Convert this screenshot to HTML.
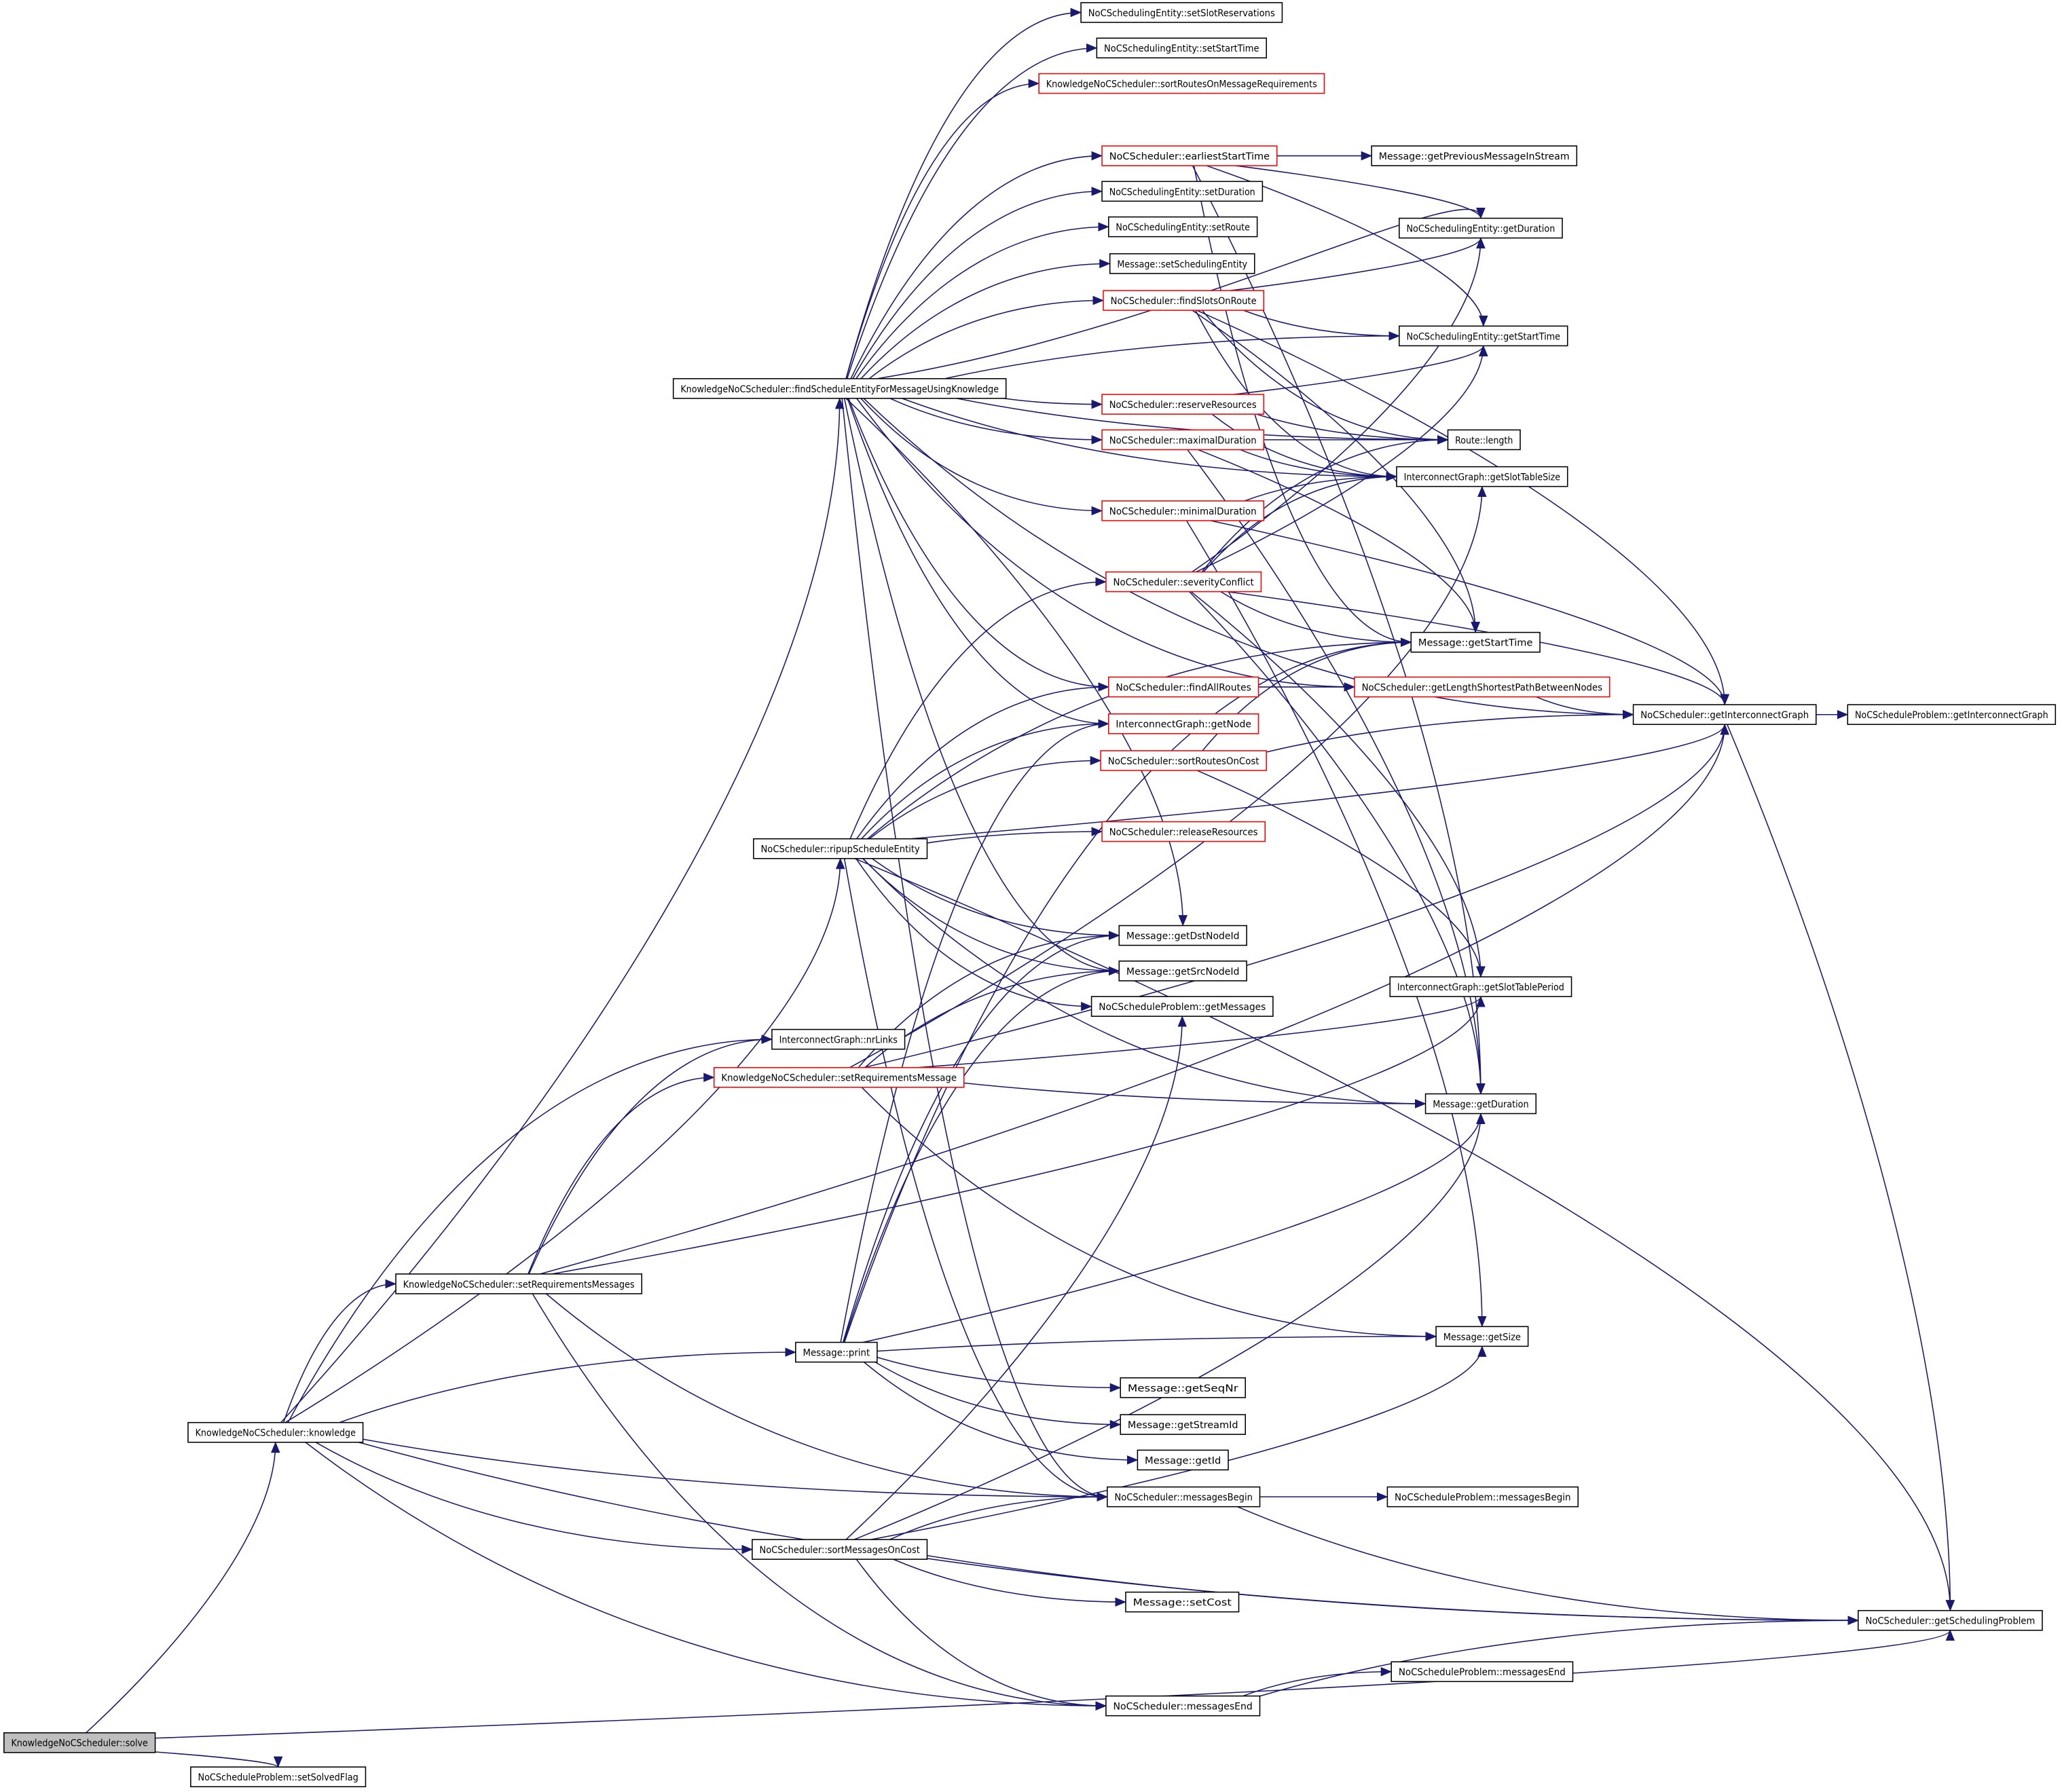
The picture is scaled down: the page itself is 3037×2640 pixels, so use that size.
<!DOCTYPE html>
<html><head><meta charset="utf-8">
<style>
html,body{margin:0;padding:0;background:#fff;}
svg{display:block;}
text{font-family:"DejaVu Sans Condensed","Liberation Sans Narrow","Liberation Sans",sans-serif;font-size:7.4px;fill:#000;}
</style></head>
<body>
<svg id="g" xmlns="http://www.w3.org/2000/svg" width="3037" height="2640" viewBox="0 0 1568 1363">
<defs>
<marker id="a" markerUnits="userSpaceOnUse" markerWidth="9" markerHeight="7" refX="8" refY="3.5" orient="auto">
<path d="M0,0 L8.5,3.5 L0,7 z" fill="#191970"/>
</marker>
</defs>
<rect x="0" y="0" width="1568" height="1363" fill="#fff"/>
<g id="edges" fill="none" stroke="#191970" stroke-width="0.8"></g>
<g id="nodes"></g>
</svg>
<script>
var N={
solve:[3,118,1318,"KnowledgeNoCScheduler::solve",2],
setSolvedFlag:[145,278,1344,"NoCScheduleProblem::setSolvedFlag"],
knowledge:[143,276,1082,"KnowledgeNoCScheduler::knowledge"],
fs:[512,765,288,"KnowledgeNoCScheduler::findScheduleEntityForMessageUsingKnowledge"],
ripup:[573,705,638,"NoCScheduler::ripupScheduleEntity"],
srm:[301,488,969,"KnowledgeNoCScheduler::setRequirementsMessages"],
print:[605,667,1021,"Message::print"],
smoc:[572,705,1171,"NoCScheduler::sortMessagesOnCost"],
nrLinks:[587,688,783,"InterconnectGraph::nrLinks"],
srm1:[543,733,812,"KnowledgeNoCScheduler::setRequirementsMessage",1],
setSlot:[822,975,2,"NoCSchedulingEntity::setSlotReservations"],
setStart:[834,963,29,"NoCSchedulingEntity::setStartTime"],
sortRMR:[790,1007,56,"KnowledgeNoCScheduler::sortRoutesOnMessageRequirements",1],
est:[838,971,111,"NoCScheduler::earliestStartTime",1],
setDur:[838,960,138,"NoCSchedulingEntity::setDuration"],
setRoute:[843,956,165,"NoCSchedulingEntity::setRoute"],
setSE:[844,954,193,"Message::setSchedulingEntity"],
fsor:[839,961,221,"NoCScheduler::findSlotsOnRoute",1],
reserve:[838,961,300,"NoCScheduler::reserveResources",1],
maxD:[838,961,327,"NoCScheduler::maximalDuration",1],
minD:[838,961,381,"NoCScheduler::minimalDuration",1],
sev:[841,959,435,"NoCScheduler::severityConflict",1],
far:[843,957,515,"NoCScheduler::findAllRoutes",1],
getNode:[843,957,543,"InterconnectGraph::getNode",1],
sroc:[837,963,571,"NoCScheduler::sortRoutesOnCost",1],
release:[838,962,625,"NoCScheduler::releaseResources",1],
dst:[851,948,704,"Message::getDstNodeId"],
src:[851,948,731,"Message::getSrcNodeId"],
getMsgs:[830,968,758,"NoCScheduleProblem::getMessages"],
seq:[852,947,1048,"Message::getSeqNr"],
stream:[852,947,1076,"Message::getStreamId"],
gid:[865,934,1103,"Message::getId"],
mb:[842,958,1131,"NoCScheduler::messagesBegin"],
setCost:[856,942,1211,"Message::setCost"],
me:[841,958,1290,"NoCScheduler::messagesEnd"],
prev:[1043,1199,111,"Message::getPreviousMessageInStream"],
nseDur:[1064,1188,166,"NoCSchedulingEntity::getDuration"],
nseStart:[1064,1192,248,"NoCSchedulingEntity::getStartTime"],
rlen:[1101,1156,327,"Route::length"],
stsize:[1062,1192,355,"InterconnectGraph::getSlotTableSize"],
mStart:[1073,1171,481,"Message::getStartTime"],
glsp:[1030,1224,515,"NoCScheduler::getLengthShortestPathBetweenNodes",1],
stper:[1057,1195,743,"InterconnectGraph::getSlotTablePeriod"],
mDur:[1084,1168,832,"Message::getDuration"],
mSize:[1092,1162,1009,"Message::getSize"],
psb:[1055,1200,1131,"NoCScheduleProblem::messagesBegin"],
pse:[1058,1196,1264,"NoCScheduleProblem::messagesEnd"],
gig:[1242,1381,536,"NoCScheduler::getInterconnectGraph"],
pgig:[1405,1563,536,"NoCScheduleProblem::getInterconnectGraph"],
gsp:[1413,1553,1225,"NoCScheduler::getSchedulingProblem"]
};
var H=15;
var E=[
["solve","knowledge","b"],["solve","setSolvedFlag","t"],["solve","gsp","b"],
["knowledge","fs","b"],["knowledge","ripup","b"],["knowledge","nrLinks"],["knowledge","srm"],["knowledge","print"],["knowledge","mb"],["knowledge","smoc"],["knowledge","me"],["knowledge","gsp"],
["fs","setSlot"],["fs","setStart"],["fs","sortRMR"],["fs","est"],["fs","setDur"],["fs","setRoute"],["fs","setSE"],["fs","fsor"],["fs","nseStart"],["fs","reserve"],["fs","maxD"],["fs","minD"],["fs","rlen"],["fs","stsize"],["fs","nseDur","t"],["fs","gig"],["fs","far"],["fs","getNode"],["fs","glsp"],["fs","dst","t"],["fs","src"],["fs","mb"],
["est","prev"],["est","nseDur","t"],["est","nseStart","t"],["est","mStart"],["est","mDur","t"],
["fsor","nseDur","b"],["fsor","nseStart"],["fsor","gig","t"],["fsor","rlen"],["fsor","stsize"],["fsor","mStart","t"],
["reserve","stsize"],["reserve","nseStart","b"],["reserve","rlen"],
["maxD","rlen"],["maxD","stsize"],["maxD","mStart","t"],["maxD","mDur","t"],
["minD","stsize"],["minD","gig","t"],["minD","mSize","t"],
["sev","nseDur","b"],["sev","nseStart","b"],["sev","rlen"],["sev","stsize"],["sev","mStart"],["sev","gig","t"],["sev","stper","t"],["sev","mDur","t"],
["far","glsp"],["glsp","gig"],
["sroc","gig"],["sroc","mStart"],["sroc","stper","t"],
["gig","pgig"],["gig","gsp","t"],
["ripup","sev"],["ripup","mStart"],["ripup","far"],["ripup","getNode"],["ripup","sroc"],["ripup","release"],["ripup","gig","b"],["ripup","gsp","t"],["ripup","dst"],["ripup","src"],["ripup","getMsgs"],["ripup","mb"],["ripup","mDur"],
["srm","nrLinks"],["srm","srm1"],["srm","stper","b"],["srm","gig","b"],["srm","mb"],["srm","me"],
["srm1","dst"],["srm1","src"],["srm1","stsize","b"],["srm1","stper","b"],["srm1","mDur"],["srm1","gig","b"],["srm1","mSize"],
["print","dst"],["print","src"],["print","mStart"],["print","mDur","b"],["print","mSize"],["print","seq"],["print","stream"],["print","gid"],["print","getNode"],
["smoc","getMsgs","b"],["smoc","mb"],["smoc","mDur","b"],["smoc","mSize","b"],["smoc","setCost"],["smoc","me"],["smoc","gsp"],
["mb","psb"],["mb","gsp"],["me","pse"],["me","gsp"]
];
var eg=document.getElementById("edges"),ng=document.getElementById("nodes"),NS="http://www.w3.org/2000/svg";
function box(k){var n=N[k];return {l:n[0],r:n[1],t:n[2],b:n[2]+H,cx:(n[0]+n[1])/2,cy:n[2]+H/2};}
E.forEach(function(e){
 var s=box(e[0]),t=box(e[1]),side=e[2]||"l",tx,ty;
 if(side=="l"){tx=t.l;ty=t.cy;}else if(side=="t"){tx=t.cx;ty=t.t;}else{tx=t.cx;ty=t.b;}
 var dx=tx-s.cx,dy=ty-s.cy,hw=(s.r-s.l)/2,hh=H/2,k=Infinity;
 if(dx!=0)k=Math.min(k,hw/Math.abs(dx));
 if(dy!=0)k=Math.min(k,hh/Math.abs(dy));
 var sx=s.cx+dx*k,sy=s.cy+dy*k;
 var DX=tx-sx,DY=ty-sy,c1x,c1y,c2x,c2y;
 if(side=="l"){c1x=sx+DX*0.3;c1y=sy+DY*0.7;c2x=tx-Math.abs(DX)*0.35;c2y=ty;}
 else{var f=side=="t"?-1:1;c1x=sx+DX*0.5;c1y=sy+DY*0.3;c2x=tx;c2y=ty+f*Math.abs(DY)*0.3;}
 var p=document.createElementNS(NS,"path");
 p.setAttribute("d","M"+sx+","+sy+" C"+c1x+","+c1y+" "+c2x+","+c2y+" "+tx+","+ty);
 p.setAttribute("marker-end","url(#a)");
 eg.appendChild(p);
});
for(var k in N){var n=N[k];
 var r=document.createElementNS(NS,"rect");
 r.setAttribute("x",n[0]);r.setAttribute("y",n[2]);r.setAttribute("width",n[1]-n[0]);r.setAttribute("height",H);
 r.setAttribute("fill",n[4]==2?"#bfbfbf":"#fff");r.setAttribute("stroke",n[4]==1?"#ff0000":"#000");r.setAttribute("stroke-width","0.8");
 ng.appendChild(r);
 var t=document.createElementNS(NS,"text");
 t.setAttribute("x",(n[0]+n[1])/2);t.setAttribute("y",n[2]+10.3);t.setAttribute("text-anchor","middle");
 t.setAttribute("textLength",(n[1]-n[0])-11);t.setAttribute("lengthAdjust","spacingAndGlyphs");
 t.textContent=n[3];ng.appendChild(t);
}
</script>
</body></html>
